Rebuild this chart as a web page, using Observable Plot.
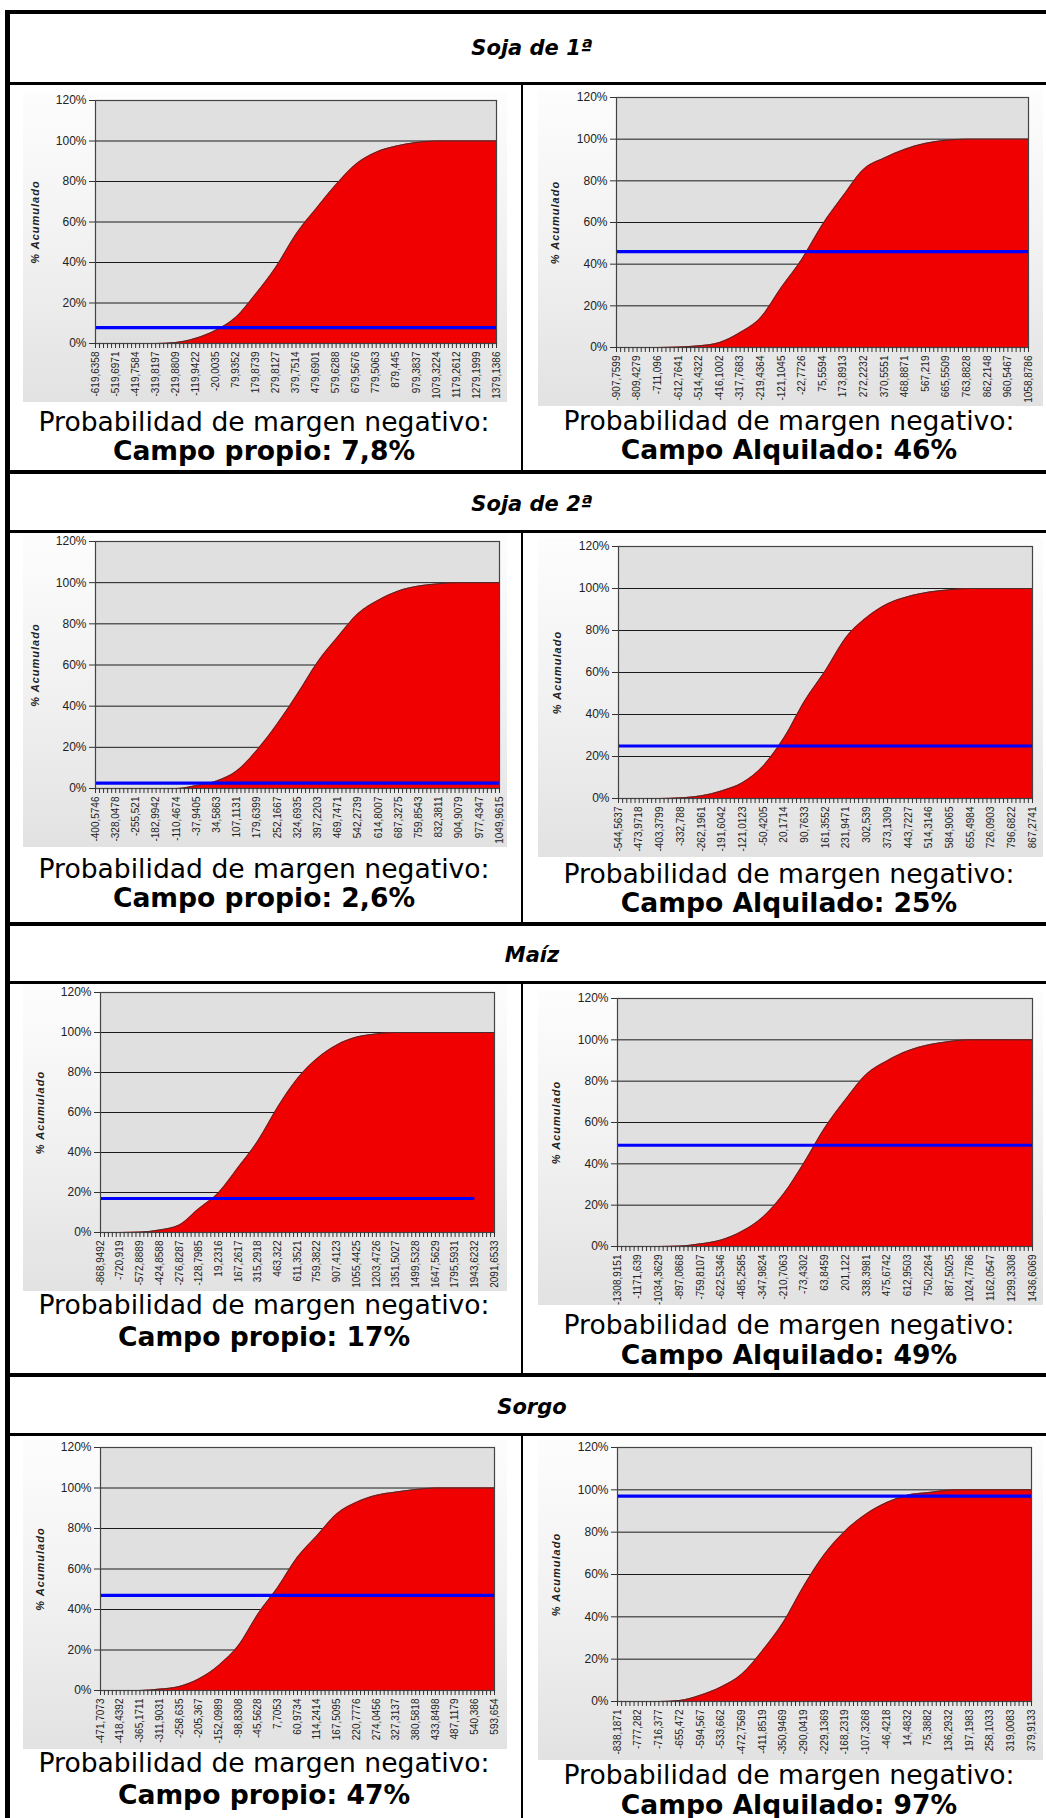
<!DOCTYPE html>
<html lang="es">
<head>
<meta charset="utf-8">
<title>Probabilidad de margen negativo</title>
<script src="https://cdn.jsdelivr.net/npm/d3@7"></script>
<script src="https://cdn.jsdelivr.net/npm/@observablehq/plot@0.6"></script>
<style>
  html, body { margin: 0; padding: 0; background: #fff; overflow: hidden; }
  #page { position: relative; width: 1046px; height: 1818px; background: #fff; }
  .line { position: absolute; background: #000; }
  .title { position: absolute; font-family: "DejaVu Sans", Verdana, sans-serif; font-weight: bold;
           font-style: italic; font-size: 21px; text-align: center; color: #000; white-space: nowrap; }
  .txt { position: absolute; font-family: "DejaVu Sans", Verdana, sans-serif; font-size: 26.6px;
         text-align: center; color: #000; white-space: nowrap; }
  .txt.b { font-weight: bold; }
  .chart { position: absolute; }
</style>
</head>
<body>
<div id="page"></div>
<script>
// Cultivos (secciones) y columnas
const cultivos = ["Soja de 1ª", "Soja de 2ª", "Maíz", "Sorgo"];
const tipoCampo = ["Campo propio", "Campo Alquilado"];

// Etiquetas del eje X (margen, $/ha) de cada gráfico
const ejeSoja1Propio = ["-619,6358","-519,6971","-419,7584","-319,8197","-219,8809","-119,9422","-20,0035","79,9352","179,8739","279,8127","379,7514","479,6901","579,6288","679,5676","779,5063","879,445","979,3837","1079,3224","1179,2612","1279,1999","1379,1386"];
const ejeSoja1Alq = ["-907,7599","-809,4279","-711,096","-612,7641","-514,4322","-416,1002","-317,7683","-219,4364","-121,1045","-22,7726","75,5594","173,8913","272,2232","370,5551","468,8871","567,219","665,5509","763,8828","862,2148","960,5467","1058,8786"];
const ejeSoja2Propio = ["-400,5746","-328,0478","-255,521","-182,9942","-110,4674","-37,9405","34,5863","107,1131","179,6399","252,1667","324,6935","397,2203","469,7471","542,2739","614,8007","687,3275","759,8543","832,3811","904,9079","977,4347","1049,9615"];
const ejeSoja2Alq = ["-544,5637","-473,9718","-403,3799","-332,788","-262,1961","-191,6042","-121,0123","-50,4205","20,1714","90,7633","161,3552","231,9471","302,539","373,1309","443,7227","514,3146","584,9065","655,4984","726,0903","796,6822","867,2741"];
const ejeMaizPropio = ["-868,9492","-720,919","-572,8889","-424,8588","-276,8287","-128,7985","19,2316","167,2617","315,2918","463,322","611,3521","759,3822","907,4123","1055,4425","1203,4726","1351,5027","1499,5328","1647,5629","1795,5931","1943,6232","2091,6533"];
const ejeMaizAlq = ["-1308,9151","-1171,639","-1034,3629","-897,0868","-759,8107","-622,5346","-485,2585","-347,9824","-210,7063","-73,4302","63,8459","201,122","338,3981","475,6742","612,9503","750,2264","887,5025","1024,7786","1162,0547","1299,3308","1436,6069"];
const ejeSorgoPropio = ["-471,7073","-418,4392","-365,1711","-311,9031","-258,635","-205,367","-152,0989","-98,8308","-45,5628","7,7053","60,9734","114,2414","167,5095","220,7776","274,0456","327,3137","380,5818","433,8498","487,1179","540,386","593,654"];
const ejeSorgoAlq = ["-838,1871","-777,282","-716,377","-655,472","-594,567","-533,662","-472,7569","-411,8519","-350,9469","-290,0419","-229,1369","-168,2319","-107,3268","-46,4218","14,4832","75,3882","136,2932","197,1983","258,1033","319,0083","379,9133"];

// % acumulado en cada etiqueta del eje X
const acumSoja1Propio = [0,0,0,0,0.5,2.6,6.6,13,24.6,37.8,54,66.5,78.5,88.7,94.5,97.5,99.3,100,100,100,100];
const acumSoja1Alq    = [0,0,0,0.2,0.8,2.4,7.2,14.4,28.8,42.4,59,72.8,85.6,91,95.2,98,99.5,100,100,100,100];
const acumSoja2Propio = [0,0,0,0,0,1.5,3.7,8.6,18.7,31.4,46,61.5,73.7,85,91.5,96,98.4,99.5,100,100,100];
const acumSoja2Alq    = [0,0,0,0.3,1.3,3.7,7.6,15.6,29,46.6,61,76.8,86.3,92.7,96.2,98.3,99.4,100,100,100,100];
const acumMaizPropio  = [0,0,0.2,1.3,3.8,12,20,32.7,46,62.8,77,87,93.8,97.7,99.3,100,100,100,100,100,100];
const acumMaizAlq     = [0,0,0,0.2,1.3,3.2,7.4,14.2,25.4,40.7,57.6,71.3,83.4,89.9,94.7,97.6,99.2,100,100,100,100];
const acumSorgoPropio = [0,0,0,0.7,2,5.8,12.4,22.2,37.9,51,65.9,76.6,87.3,93,96.4,98,99.3,100,100,100,100];
const acumSorgoAlq    = [0,0,0,0.5,3,6.9,12.9,24,37.3,54.6,69.6,80.6,88.5,94,97.5,98.7,99.8,100,100,100,100];

// Probabilidad de margen negativo (%) y texto que se muestra
const probNegativo = [7.8, 46, 2.6, 25, 17, 49, 47, 97];
const probTexto = ["7,8%", "46%", "2,6%", "25%", "17%", "49%", "47%", "97%"];
// índice de la etiqueta X donde termina la línea azul
const finLinea = [20, 20, 20, 20, 19, 20, 20, 20];

const ejes = [ejeSoja1Propio, ejeSoja1Alq, ejeSoja2Propio, ejeSoja2Alq, ejeMaizPropio, ejeMaizAlq, ejeSorgoPropio, ejeSorgoAlq];
const acums = [acumSoja1Propio, acumSoja1Alq, acumSoja2Propio, acumSoja2Alq, acumMaizPropio, acumMaizAlq, acumSorgoPropio, acumSorgoAlq];

// ---- layout (px) ----
// borders: [left, top, width, height]
const bordes = [
  [5, 10, 5, 1808],      // outer left
  [5, 10, 1041, 4],      // outer top
  [10, 82, 1036, 3],     // under title 1
  [10, 470, 1036, 4], [10, 530, 1036, 3],
  [10, 922, 1036, 4], [10, 981, 1036, 3],
  [10, 1373, 1036, 4], [10, 1433, 1036, 3],
  [521, 85, 2, 385], [521, 533, 2, 389], [521, 984, 2, 389], [521, 1436, 2, 382]
];
const tituloY = [48, 504, 955, 1407];
// per chart: [bgLeft, bgRight, plotLeft, plotTop, plotRight, plotBottom]
const cajas = [
  [23, 507, 95, 100, 496, 343], [538, 1043, 616, 97, 1028, 347],
  [23, 507, 95, 541, 499, 788], [538, 1043, 618, 546, 1032, 798],
  [23, 507, 100, 992, 494, 1232], [538, 1043, 617, 998, 1032, 1246],
  [23, 507, 100, 1447, 494, 1690], [538, 1043, 617, 1447, 1031, 1701]
];
const textoY = [[422, 451], [421, 450], [869, 898], [874, 903], [1305, 1337], [1325, 1355], [1763, 1795], [1775, 1805]];
const textoX = [264, 789];

const page = document.getElementById("page");

for (const [l, t, w, h] of bordes) {
  const d = document.createElement("div");
  d.className = "line";
  Object.assign(d.style, {left: l + "px", top: t + "px", width: w + "px", height: h + "px"});
  page.appendChild(d);
}

cultivos.forEach((c, i) => {
  const d = document.createElement("div");
  d.className = "title";
  d.textContent = c;
  Object.assign(d.style, {left: (532 - 200) + "px", width: "400px", top: (tituloY[i] - 14) + "px", lineHeight: "28px"});
  page.appendChild(d);
});

const num = s => +s.replace(",", ".");

ejes.forEach((eje, k) => {
  const xs = eje.map(num);
  const rows = xs.map((x, i) => ({x, y: acums[k][i]}));
  const etiqueta = new Map(xs.map((x, i) => [x, eje[i]]));
  // five category ticks between consecutive labels
  const menores = [];
  for (let i = 0; i < xs.length - 1; i++)
    for (let j = 0; j < 5; j++) menores.push(xs[i] + (xs[i + 1] - xs[i]) * j / 5);
  menores.push(xs[xs.length - 1]);

  const [bl, br, pl, pt, pr, pb] = cajas[k];
  const top = pt - 8, bottom = pb + 59;
  const W = br - bl, H = bottom - top;

  const svg = Plot.plot({
    width: W, height: H,
    marginLeft: pl - bl, marginRight: br - pr, marginTop: pt - top, marginBottom: bottom - pb,
    style: {
      background: "linear-gradient(to bottom, #fdfdfd 0%, #f0f0f0 55%, #e2e2e2 100%)",
      fontFamily: "'Liberation Sans', Arial, sans-serif",
      color: "#222",
      overflow: "visible"
    },
    x: {domain: [xs[0], xs[xs.length - 1]], label: null},
    y: {domain: [0, 120], label: null},
    marks: [
      Plot.frame({fill: "#e0e0e0"}),
      Plot.gridY([20, 40, 60, 80, 100], {stroke: "#1a1a1a", strokeOpacity: 1, strokeWidth: 1}),
      Plot.areaY(rows, {x: "x", y: "y", fill: "#f00000", curve: "monotone-x"}),
      Plot.lineY(rows, {x: "x", y: "y", stroke: "#333", strokeWidth: 0.9, curve: "monotone-x"}),
      Plot.ruleY([probNegativo[k]], {x1: xs[0], x2: xs[finLinea[k]], stroke: "#0000ff", strokeWidth: 3.2}),
      Plot.frame({stroke: "#444", strokeWidth: 1.2}),
      Plot.axisY([0, 20, 40, 60, 80, 100, 120], {tickFormat: d => d + "%", tickSize: 6, tickPadding: 3, fontSize: 12, label: null, stroke: "#333"}),
      Plot.axisX(menores, {tickFormat: () => "", tickSize: 5, label: null, stroke: "#333"}),
      Plot.axisX(xs, {tickFormat: d => etiqueta.get(d), tickSize: 0, tickPadding: 8, tickRotate: -90, fontSize: 10, label: null}),
      Plot.text(["% Acumulado"], {text: d => d, frameAnchor: "left", textAnchor: "middle", dx: k % 2 ? -61 : -60, rotate: -90,
        fontWeight: "bold", fontStyle: "italic", fontSize: 11, fill: "#222"})
    ]
  });
  svg.classList.add("chart");
  svg.style.left = bl + "px";
  svg.style.top = top + "px";
  svg.querySelectorAll("text").forEach(t => {
    if (t.textContent === "") t.remove();                     // minor ticks carry no label
    else if (t.textContent === "% Acumulado") t.setAttribute("letter-spacing", "1");
  });
  page.appendChild(svg);

  const cx = textoX[k % 2];
  const [y1, y2] = textoY[k];
  const a = document.createElement("div");
  a.className = "txt";
  a.textContent = "Probabilidad de margen negativo:";
  Object.assign(a.style, {left: (cx - 300) + "px", width: "600px", top: (y1 - 13) + "px", lineHeight: "26px"});
  page.appendChild(a);
  const b = document.createElement("div");
  b.className = "txt b";
  b.textContent = tipoCampo[k % 2] + ": " + probTexto[k];
  Object.assign(b.style, {left: (cx - 300) + "px", width: "600px", top: (y2 - 13) + "px", lineHeight: "26px"});
  page.appendChild(b);
});
</script>
</body>
</html>
